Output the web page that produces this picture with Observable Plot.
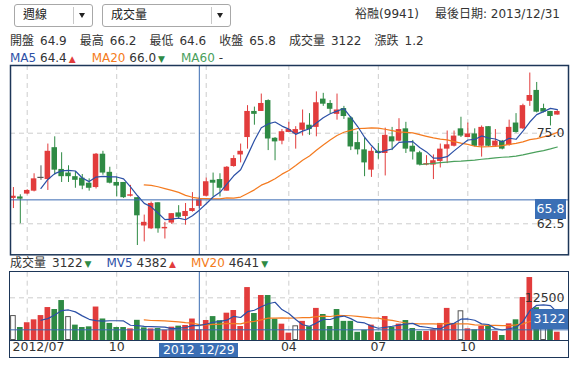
<!DOCTYPE html>
<html><head><meta charset="utf-8">
<script src="https://cdn.jsdelivr.net/npm/d3@7"></script>
<script src="https://cdn.jsdelivr.net/npm/@observablehq/plot@0.6"></script>
<style>
body{margin:0;background:#fff;font-family:"DejaVu Sans","Noto Sans CJK TC",sans-serif;color:#333;}
#root{position:relative;width:578px;height:368px;overflow:hidden;background:#fff;}
.abs{position:absolute;white-space:nowrap;}
.row{position:absolute;left:10px;white-space:nowrap;font-size:12px;line-height:14px;color:#333;}
.row span{display:inline-block;}
.tri{font-size:9px;}
.dd{position:absolute;top:3.5px;height:23px;box-sizing:border-box;border:1px solid #a8a8a8;border-radius:3px;background:#fff;}
.dd .t{position:absolute;top:0;line-height:21px;font-size:12px;color:#222;}
.dd .sep{position:absolute;top:2px;bottom:2px;width:1px;background:#c8c8c8;}
.dd .arr{position:absolute;top:8.8px;width:0;height:0;border-left:3.5px solid transparent;border-right:3.5px solid transparent;border-top:5px solid #222;}
.box{position:absolute;background:#3b6fb5;color:#fff;font-size:12.5px;text-align:center;}
svg{position:absolute;left:0;}
</style></head>
<body><div id="root"></div>
<script>
// ---- data (weekly, index 0 = week ending 2012/06/22) ----
const open  = [66.0,66.2,66.6,67.0,68.9,68.6,73.0,70.0,69.5,69.0,68.8,68.1,67.5,72.1,69.6,68.2,68.2,66.3,66.1,62.2,61.8,65.4,61.8,62.6,64.0,63.5,64.2,64.9,66.3,68.5,68.6,67.0,70.4,72.0,74.4,78.0,78.0,79.5,74.3,73.9,75.1,74.9,75.4,76.1,75.8,79.7,79.1,77.6,78.4,77.1,73.7,72.7,69.9,72.5,72.2,74.5,73.9,75.6,73.2,72.3,70.6,70.6,71.1,72.8,73.2,75.6,74.4,74.9,73.2,75.9,73.2,73.9,73.3,76.4,75.6,79.4,80.9,78.4,78.0,77.5];
const high  = [67.5,66.5,67.2,69.4,70.5,73.5,74.5,72.3,70.5,69.7,69.3,68.7,72.2,72.5,70.3,68.9,68.2,67.8,66.1,63.7,65.5,65.4,62.7,63.9,65.0,65.3,66.8,66.2,68.8,69.5,69.4,70.4,71.9,73.5,78.8,78.6,80.4,79.6,74.4,75.5,76.5,75.9,78.2,77.7,80.7,80.5,79.5,80.4,78.7,77.3,75.2,74.3,73.0,73.6,75.7,75.8,77.0,76.5,74.0,72.5,71.9,72.0,73.5,75.3,75.3,77.2,76.4,75.6,76.0,75.9,75.5,74.0,76.8,77.7,79.0,83.3,82.0,79.0,78.0,78.1];
const low   = [64.6,62.5,66.5,66.9,68.5,67.1,69.2,68.2,68.2,67.4,67.2,67.0,67.3,69.2,68.0,66.2,66.0,66.2,59.5,60.0,61.7,61.2,60.4,62.4,63.1,62.3,64.1,64.6,66.2,66.2,66.2,67.0,70.3,70.9,72.8,76.1,78.0,72.6,71.2,73.4,75.1,72.8,74.6,74.7,74.5,78.7,77.7,76.8,76.9,72.6,72.0,69.0,68.9,71.4,69.1,72.6,73.8,72.2,71.3,70.5,70.5,68.6,70.2,70.8,73.1,74.4,74.4,73.1,71.7,73.1,73.1,72.7,73.2,75.0,75.5,78.7,77.8,77.8,76.0,77.5];
const close = [66.3,65.9,67.1,68.7,68.9,72.5,69.9,69.0,69.0,68.5,67.7,67.4,72.1,69.5,68.1,67.7,66.1,66.5,63.6,62.7,65.3,61.8,62.0,63.9,63.4,64.2,64.6,65.8,68.3,68.1,67.4,70.3,71.5,72.5,78.0,77.6,79.1,74.2,73.8,75.2,75.5,75.5,76.4,75.5,79.2,79.0,78.3,78.2,77.3,73.1,72.7,70.9,72.5,72.2,74.7,73.8,75.5,72.8,72.4,70.6,70.8,71.2,72.8,73.4,74.6,74.6,74.9,73.2,75.8,73.2,73.9,72.8,75.8,75.1,78.8,80.2,77.9,77.9,77.3,78.0];
const volume = [7300,3800,5200,6050,7300,9650,9070,11700,7000,4500,3800,4000,9800,6300,5000,3800,3800,3400,5910,3700,3400,3500,3000,3900,4200,4400,6288,3122,5850,7000,5800,8000,8780,4100,15500,7900,13170,13170,6250,4780,2150,4300,5600,4050,9400,7610,4100,9070,5600,5600,2400,3000,4500,2400,7020,3900,4800,5850,3510,2630,2630,3120,5000,9400,5000,8700,3420,3120,4100,4100,2630,1460,4880,6060,12590,18440,9600,5500,5000,2440];
const monthTickIndex = [2, 15, 28, 40, 53, 66];
const monthTickLabel = ["2012/07", "10", "2013/01", "04", "07", "10"];
const priceGridValues = [75.0, 62.5];
const volumeGridValues = [12500];
const periodLabel = "週線";
const indicatorLabel = "成交量";
const stockName = "裕融(9941)";
const lastDateLabel = "最後日期: 2013/12/31";
const crossIndex = 27;
const crossDateLabel = "2012 12/29";

// ---- styling ----
const RED = "#e23c3c", GREEN = "#2e8a44", GRAY = "#555555";
const BLUE_MA = "#2c50a6", ORANGE = "#f47b20", GREEN_MA = "#4aa05c";
const CROSS = "#3a6bb2", FRAME = "#1d3658", GRID = "#cdcdcd";
const FONT = '"DejaVu Sans","Noto Sans CJK TC",sans-serif';

const weeks = d3.range(close.length).map(i => ({
  i, open: open[i], high: high[i], low: low[i], close: close[i], volume: volume[i],
  prev: i > 0 ? close[i - 1] : null
}));
const candleDir = d => d.close > d.open ? "up" : d.close < d.open ? "down" : "flat";
const volDir = d => (d.prev == null || d.close === d.prev) ? "flat" : d.close > d.prev ? "up" : "down";
const dirColor = {up: RED, down: GREEN, flat: GRAY};
const maReduce = k => values => (values.length < k || values.some(v => v == null || isNaN(v))) ? NaN : d3.mean(values);
const maLine = (k, field, stroke) => Plot.lineY(weeks, Plot.windowY({k, anchor: "end", reduce: maReduce(k)}, {x: "i", y: field, stroke, strokeWidth: 1.2}));

const xDomain = [-0.4256, 80.62];
const dashed = {stroke: GRID, strokeDasharray: "5,4"};
const root = document.getElementById("root");

// ---- main price panel ----
const main = Plot.plot({
  width: 578, height: 200, marginTop: 5, marginBottom: 5.7, marginLeft: 10, marginRight: 10,
  x: {domain: xDomain, axis: null},
  y: {domain: [58.22, 84.34], axis: null},
  style: {background: "transparent", fontFamily: FONT, fontSize: "12.5px", color: "#333", overflow: "visible"},
  marks: [
    Plot.ruleY(priceGridValues, dashed),
    Plot.ruleX(monthTickIndex, dashed),
    Plot.ruleX(weeks, {x: "i", y1: "low", y2: "high", stroke: d => dirColor[candleDir(d)], strokeWidth: 1}),
    Plot.rect(weeks.filter(d => d.open !== d.close), {x1: d => d.i - 0.4, x2: d => d.i + 0.4, y1: "open", y2: "close", fill: d => dirColor[candleDir(d)]}),
    Plot.ruleY(weeks.filter(d => d.open === d.close), {y: "close", x1: d => d.i - 0.45, x2: d => d.i + 0.45, stroke: GRAY, strokeWidth: 1.2}),
    maLine(60, "close", GREEN_MA),
    maLine(20, "close", ORANGE),
    maLine(5, "close", BLUE_MA),
    Plot.ruleX([crossIndex], {stroke: CROSS, strokeWidth: 1}),
    Plot.ruleY([close[crossIndex]], {stroke: CROSS, strokeWidth: 1}),
    Plot.text(priceGridValues, {y: d => d, text: d => d.toFixed(1), frameAnchor: "right", textAnchor: "end", dx: -4, fill: "#333"}),
    Plot.frame({stroke: FRAME, strokeWidth: 1.5})
  ]
});
main.style.top = "60px";
root.appendChild(main);

// ---- volume panel ----
const shownTicks = monthTickIndex.map((t, k) => ({t, label: monthTickLabel[k]})).filter(d => Math.abs(d.t - crossIndex) >= 5);
const vol = Plot.plot({
  width: 578, height: 96, marginTop: 5.7, marginBottom: 22, marginLeft: 10, marginRight: 10,
  x: {domain: xDomain, axis: null},
  y: {domain: [0, 20000], axis: null},
  style: {background: "transparent", fontFamily: FONT, fontSize: "12.5px", color: "#333", overflow: "visible"},
  marks: [
    Plot.ruleY(volumeGridValues, dashed),
    Plot.ruleX(monthTickIndex, dashed),
    Plot.rect(weeks.filter(d => volDir(d) !== "flat"), {x1: d => d.i - 0.41, x2: d => d.i + 0.41, y1: () => 0, y2: "volume", fill: d => dirColor[volDir(d)]}),
    Plot.rect(weeks.filter(d => volDir(d) === "flat"), {x1: d => d.i - 0.41, x2: d => d.i + 0.41, y1: () => 0, y2: "volume", fill: "white", stroke: "#555", strokeWidth: 1, inset: 0.5}),
    maLine(20, "volume", ORANGE),
    maLine(5, "volume", BLUE_MA),
    Plot.ruleX([crossIndex], {stroke: CROSS, strokeWidth: 1}),
    Plot.ruleY([volume[crossIndex]], {stroke: CROSS, strokeWidth: 1}),
    Plot.text(volumeGridValues, {y: d => d, text: d => String(d), frameAnchor: "right", textAnchor: "end", dx: -4, fill: "#333"}),
    Plot.ruleY([0], {stroke: FRAME, strokeWidth: 1}),
    Plot.text(shownTicks.slice(0, 1), {text: "label", frameAnchor: "bottom-left", textAnchor: "start", dx: 2, dy: 10, fill: "#333"}),
    Plot.text(shownTicks.slice(1), {x: "t", text: "label", frameAnchor: "bottom", dy: 10, fill: "#333"})
  ]
});
vol.style.top = "266px";
root.appendChild(vol);

// volume panel border
const vb = document.createElement("div");
vb.className = "abs";
Object.assign(vb.style, {left: "9.25px", top: "271px", width: "559.5px", height: "86.5px", boxSizing: "border-box", border: `1.5px solid ${FRAME}`});
root.appendChild(vb);

// ---- crosshair label boxes (positioned with the plots' scales) ----
const xs = main.scale("x"), ys = main.scale("y"), vys = vol.scale("y");
const cx = xs.apply(crossIndex);
function addBox(text, left, top, width, height) {
  const b = document.createElement("div");
  b.className = "box";
  Object.assign(b.style, {left: left + "px", top: top + "px", width: width + "px", height: height + "px", lineHeight: height + "px"});
  b.textContent = text;
  root.appendChild(b);
}
addBox(close[crossIndex].toFixed(1), 535, 60 + ys.apply(close[crossIndex]), 31, 20);
addBox(String(volume[crossIndex]), 530.7, 266 + vys.apply(volume[crossIndex]) - 20.3, 37.6, 20.3);
addBox(crossDateLabel, cx - 39.5, 343.3, 79, 14);

// ---- header ----
function dropdown(left, width, label, sepX, arrX) {
  const d = document.createElement("div");
  d.className = "dd";
  d.style.left = left + "px"; d.style.width = width + "px";
  d.innerHTML = `<span class="t" style="left:8px">${label}</span><span class="sep" style="left:${sepX}px"></span><span class="arr" style="left:${arrX}px"></span>`;
  root.appendChild(d);
}
dropdown(14, 79, periodLabel, 57.7, 64.3);
dropdown(102, 129, indicatorLabel, 107.7, 114);

const rh = document.createElement("div");
rh.className = "abs";
Object.assign(rh.style, {right: "18px", top: "7px", fontSize: "12px", lineHeight: "14px", color: "#333"});
rh.innerHTML = `<span>${stockName}</span><span style="margin-left:16px">${lastDateLabel}</span>`;
root.appendChild(rh);

const c = crossIndex;
const avg = (arr, k, i) => i + 1 >= k ? d3.mean(arr.slice(i - k + 1, i + 1)) : null;
const UP = `<span class="tri" style="color:${RED};margin-left:2px">▲</span>`;
const DOWN = `<span class="tri" style="color:${GREEN};margin-left:2px">▼</span>`;
const arrow = (a, b) => a == null || b == null ? "" : (a > b ? UP : a < b ? DOWN : "");

const info = [["開盤", open[c].toFixed(1)], ["最高", high[c].toFixed(1)], ["最低", low[c].toFixed(1)], ["收盤", close[c].toFixed(1)], ["成交量", String(volume[c])], ["漲跌", (close[c] - close[c - 1]).toFixed(1)]];
const r1 = document.createElement("div");
r1.className = "row"; r1.style.top = "33.5px";
r1.innerHTML = info.map(([k, v], j) => `<span style="margin-left:${j ? 13 : 0}px">${k}</span><span style="margin-left:6px">${v}</span>`).join("");
root.appendChild(r1);

const maSpec = [["MA5", 5, BLUE_MA], ["MA20", 20, ORANGE], ["MA60", 60, GREEN_MA]];
const r2 = document.createElement("div");
r2.className = "row"; r2.style.top = "51px";
r2.innerHTML = maSpec.map(([name, k, col], j) => {
  const now = avg(close, k, c), before = avg(close, k, c - 1);
  return `<span style="margin-left:${j ? 16 : 0}px;color:${col}">${name}</span><span>&nbsp;${now == null ? "-" : now.toFixed(1)}</span>${arrow(now, before)}`;
}).join("");
root.appendChild(r2);

const mvSpec = [["MV5", 5, BLUE_MA], ["MV20", 20, ORANGE]];
const r3 = document.createElement("div");
r3.className = "row"; r3.style.top = "256px";
r3.innerHTML = `<span>成交量</span><span style="margin-left:6px">${volume[c]}</span>${arrow(volume[c], volume[c - 1])}` +
  mvSpec.map(([name, k, col]) => {
    const now = avg(volume, k, c), before = avg(volume, k, c - 1);
    return `<span style="margin-left:15px;color:${col}">${name}</span><span>&nbsp;${Math.round(now)}</span>${arrow(now, before)}`;
  }).join("");
root.appendChild(r3);
</script>
</body></html>
